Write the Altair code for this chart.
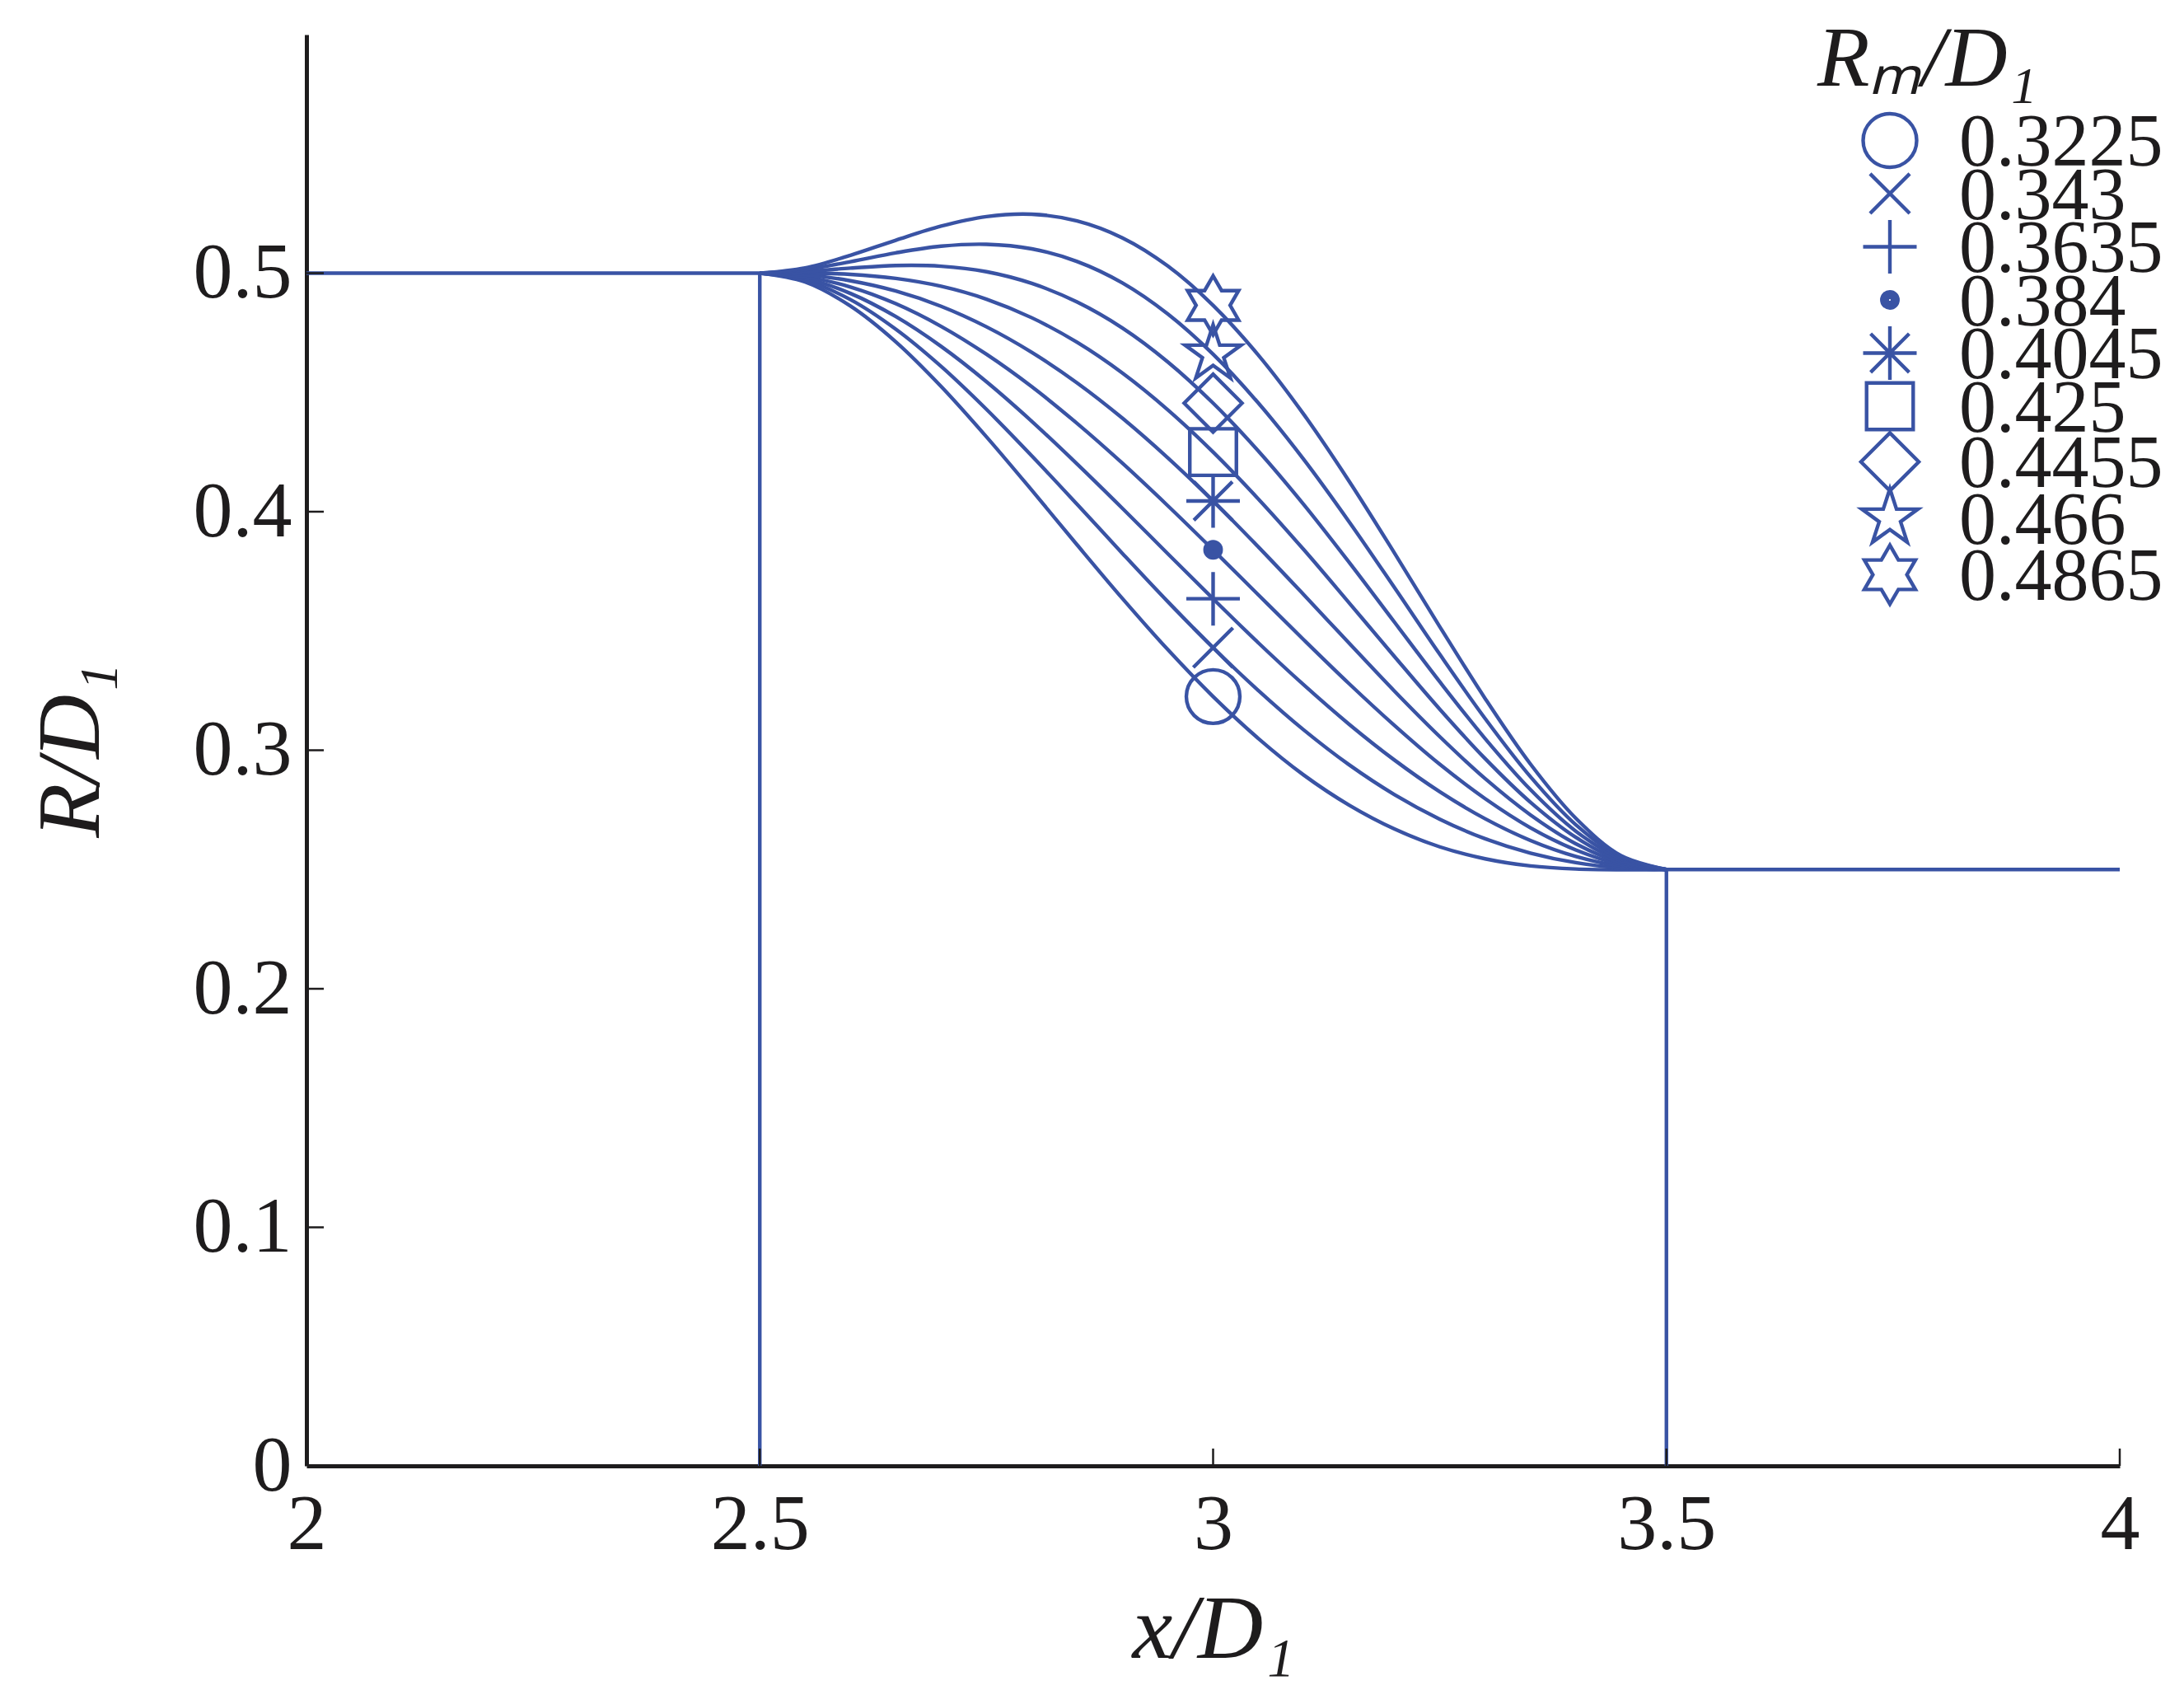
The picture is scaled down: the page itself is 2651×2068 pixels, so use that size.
import altair as alt
import pandas as pd

BLUE = "#3953a4"
INK = "#1e1c1d"
SERIF = "Liberation Serif"

# x positions along the transition (x/D1)
x_vals = [2.5, 2.55, 2.6, 2.65, 2.7, 2.75, 2.8, 2.85, 2.9, 2.95, 3.0,
          3.05, 3.1, 3.15, 3.2, 3.25, 3.3, 3.35, 3.4, 3.45, 3.5]

rm_labels = ["0.3225", "0.343", "0.3635", "0.384", "0.4045", "0.425", "0.4455", "0.466", "0.4865"]
rm_values = [0.3225, 0.343, 0.3635, 0.384, 0.4045, 0.425, 0.4455, 0.466, 0.4865]

# R/D1
r_3225 = [0.5, 0.4963, 0.4862, 0.4712, 0.4525, 0.4314, 0.4090, 0.3861, 0.3636, 0.3422, 0.3225,
          0.3049, 0.2896, 0.2770, 0.2670, 0.2595, 0.2545, 0.2515, 0.2502, 0.2499, 0.25]
r_343 = [0.5, 0.4970, 0.4889, 0.4765, 0.4609, 0.4429, 0.4234, 0.4031, 0.3825, 0.3623, 0.343,
         0.3250, 0.3085, 0.2939, 0.2814, 0.2711, 0.2629, 0.2569, 0.2529, 0.2507, 0.25]
r_3635 = [0.5, 0.4978, 0.4915, 0.4818, 0.4693, 0.4545, 0.4379, 0.4200, 0.4014, 0.3824, 0.3635,
          0.3450, 0.3274, 0.3109, 0.2959, 0.2826, 0.2713, 0.2622, 0.2555, 0.2514, 0.25]
r_384 = [0.5, 0.4985, 0.4942, 0.4872, 0.4777, 0.4660, 0.4524, 0.4370, 0.4203, 0.4025, 0.384,
         0.3651, 0.3463, 0.3279, 0.3104, 0.2941, 0.2797, 0.2675, 0.2582, 0.2521, 0.25]
r_4045 = [0.5, 0.4993, 0.4968, 0.4925, 0.4861, 0.4775, 0.4668, 0.4540, 0.4392, 0.4226, 0.4045,
          0.3852, 0.3652, 0.3449, 0.3248, 0.3057, 0.2881, 0.2729, 0.2608, 0.2529, 0.25]
r_425 = [0.5, 0.5000, 0.4995, 0.4978, 0.4945, 0.4891, 0.4813, 0.4710, 0.4581, 0.4427, 0.425,
         0.4053, 0.3841, 0.3618, 0.3393, 0.3172, 0.2965, 0.2782, 0.2635, 0.2536, 0.25]
r_4455 = [0.5, 0.5007, 0.5021, 0.5032, 0.5029, 0.5006, 0.4957, 0.4879, 0.4770, 0.4628, 0.4455,
          0.4254, 0.4030, 0.3788, 0.3537, 0.3287, 0.3049, 0.2835, 0.2661, 0.2544, 0.25]
r_466 = [0.5, 0.5015, 0.5048, 0.5085, 0.5113, 0.5121, 0.5102, 0.5049, 0.4959, 0.4829, 0.466,
         0.4455, 0.4219, 0.3958, 0.3682, 0.3402, 0.3133, 0.2889, 0.2688, 0.2551, 0.25]
r_4865 = [0.5, 0.5022, 0.5075, 0.5138, 0.5197, 0.5237, 0.5247, 0.5219, 0.5148, 0.5030, 0.4865,
          0.4656, 0.4408, 0.4128, 0.3827, 0.3518, 0.3217, 0.2942, 0.2715, 0.2558, 0.25]
curves = [r_3225, r_343, r_3635, r_384, r_4045, r_425, r_4455, r_466, r_4865]

marker_x = 3.0

# straight parts of the geometry: (x, x2, y, y2)
seg_x = [2.0, 3.5, 2.5, 3.5]
seg_x2 = [2.5, 4.0, 2.5, 3.5]
seg_y = [0.5, 0.25, 0.0, 0.0]
seg_y2 = [0.5, 0.25, 0.5, 0.25]

x_ticks = [2, 2.5, 3, 3.5, 4]
y_ticks = [0, 0.1, 0.2, 0.3, 0.4, 0.5]


# ---- marker glyphs (unit-box SVG paths) ----
def circ(r, dy):
    return f"M{r},{dy:.3f}A{r},{r},0,1,1,{-r},{dy:.3f}A{r},{r},0,1,1,{r},{dy:.3f}Z"


def poly(pts, dy, close):
    s = "M" + "L".join(f"{px:.3f},{py + dy:.3f}" for px, py in pts)
    return s + ("Z" if close else "")


STAR5 = [(0, -1.1), (0.247, -0.34), (1.046, -0.34), (0.399, 0.13), (0.647, 0.89), (0, 0.42),
         (-0.647, 0.89), (-0.399, 0.13), (-1.046, -0.34), (-0.247, -0.34)]
STAR6 = [(0, -1.1), (0.318, -0.55), (0.953, -0.55), (0.635, 0), (0.953, 0.55), (0.318, 0.55),
         (0, 1.1), (-0.318, 0.55), (-0.953, 0.55), (-0.635, 0), (-0.953, -0.55), (-0.318, -0.55)]


def glyphs(dy):
    return [
        circ(1, dy),
        poly([(-0.74, -0.74), (0.74, 0.74)], dy, False) + poly([(-0.74, 0.74), (0.74, -0.74)], dy, False),
        poly([(-1, 0), (1, 0)], dy, False) + poly([(0, -1), (0, 1)], dy, False),
        circ(0.3, dy) + circ(0.2, dy) + circ(0.1, dy) + circ(0.03, dy),
        (poly([(-1, 0), (1, 0)], dy, False) + poly([(0, -1), (0, 1)], dy, False)
         + poly([(-0.72, -0.72), (0.72, 0.72)], dy, False) + poly([(-0.72, 0.72), (0.72, -0.72)], dy, False)),
        poly([(-0.87, -0.87), (0.87, -0.87), (0.87, 0.87), (-0.87, 0.87)], dy, True),
        poly([(0, -1.08), (1.08, 0), (0, 1.08), (-1.08, 0)], dy, True),
        poly(STAR5, dy, True),
        poly(STAR6, dy, True),
    ]


plot_shapes = glyphs(0.0)
legend_shapes = glyphs(-0.94)   # lifted so symbols sit on the label digits

W, H = 2201, 1737
LW = 4.4

rows = []
for lab, ys in zip(rm_labels, curves):
    for xv, yv in zip(x_vals, ys):
        rows.append({"x": xv, "y": yv, "rm": lab})
curve_df = pd.DataFrame(rows)
marker_df = pd.DataFrame({"x": [marker_x] * len(rm_values), "y": rm_values, "rm": rm_labels})
seg_df = pd.DataFrame({"x": seg_x, "x2": seg_x2, "y": seg_y, "y2": seg_y2})
xt_df = pd.DataFrame({"x": x_ticks[1:]})
yt_df = pd.DataFrame({"y": y_ticks[1:]})

xscale = alt.Scale(domain=[2, 4], nice=False, zero=False)
yscale = alt.Scale(domain=[0, 0.6], nice=False, zero=False)

x_axis = alt.Axis(values=x_ticks, format="~g", title="x/D₁", ticks=False, grid=False,
                  domainColor=INK, domainWidth=5, labelFont=SERIF, labelFontSize=96,
                  labelColor=INK, labelPadding=24, labelFlush=False, labelOverlap=False,
                  titleFont=SERIF, titleFontSize=110, titleFontStyle="italic",
                  titleFontWeight="normal", titleColor=INK, titlePadding=26)
y_axis = alt.Axis(values=y_ticks, format="~g", title="R/D₁", ticks=False, grid=False,
                  domainColor=INK, domainWidth=5, labelFont=SERIF, labelFontSize=96,
                  labelColor=INK, labelPadding=18, labelFlush=False, labelOverlap=False,
                  titleFont=SERIF, titleFontSize=108, titleFontStyle="italic",
                  titleFontWeight="normal", titleColor=INK, titlePadding=92)


def X(field="x"):
    return alt.X(f"{field}:Q", scale=xscale, axis=x_axis)


def Y(field="y"):
    return alt.Y(f"{field}:Q", scale=yscale, axis=y_axis)


legend = alt.Legend(orient="none", legendX=1834, legendY=-20, title="Rₘ/D₁",
                    titleFont=SERIF, titleFontSize=104, titleFontStyle="italic",
                    titleFontWeight="normal", titleColor=INK, titlePadding=30, titleLimit=0,
                    labelFont=SERIF, labelFontSize=90, labelColor=INK, labelOffset=39,
                    labelBaseline="alphabetic", labelLimit=0,
                    symbolOffset=43, symbolSize=4225, symbolStrokeWidth=LW, symbolOpacity=1,
                    symbolStrokeColor=BLUE, symbolFillColor="transparent",
                    rowPadding=-25.5, padding=0)

segs = alt.Chart(seg_df).mark_rule(color=BLUE, strokeWidth=LW).encode(
    x=X(), x2="x2:Q", y=Y(), y2="y2:Q")

lines = alt.Chart(curve_df).mark_line(color=BLUE, strokeWidth=LW, interpolate="catmull-rom").encode(
    x=X(), y=Y(), detail="rm:N")

markers = alt.Chart(marker_df).mark_point(filled=False, color=BLUE, strokeWidth=LW,
                                          size=4225, opacity=1).encode(
    x=X(), y=Y(),
    shape=alt.Shape("rm:N", scale=alt.Scale(domain=rm_labels, range=plot_shapes),
                    sort=rm_labels, legend=None),
)

# invisible twin of the markers that only carries the legend
legend_carrier = alt.Chart(marker_df).mark_point(filled=False, color=BLUE, strokeWidth=LW,
                                                 size=0, opacity=0).encode(
    x=X(), y=Y(),
    shape=alt.Shape("rm:N", scale=alt.Scale(domain=rm_labels, range=legend_shapes),
                    sort=rm_labels, legend=legend),
)

xticks = alt.Chart(xt_df).mark_rule(color=INK, strokeWidth=2.5).encode(
    x=X(), y=alt.value(H), y2=alt.value(H - 21))
yticks = alt.Chart(yt_df).mark_rule(color=INK, strokeWidth=2.5).encode(
    y=Y(), x=alt.value(0), x2=alt.value(21))

chart = alt.layer(segs, lines, xticks, yticks, markers, legend_carrier).resolve_scale(
    shape="independent"
).resolve_legend(shape="independent").properties(
    width=W, height=H,
    background="white",
    autosize=alt.AutoSizeParams(type="none"),
    padding={"left": 364, "top": 34, "right": 60, "bottom": 270},
).configure_view(stroke=None, strokeWidth=0)

chart.save("out.html", embed_options={"renderer": "svg", "actions": False})
